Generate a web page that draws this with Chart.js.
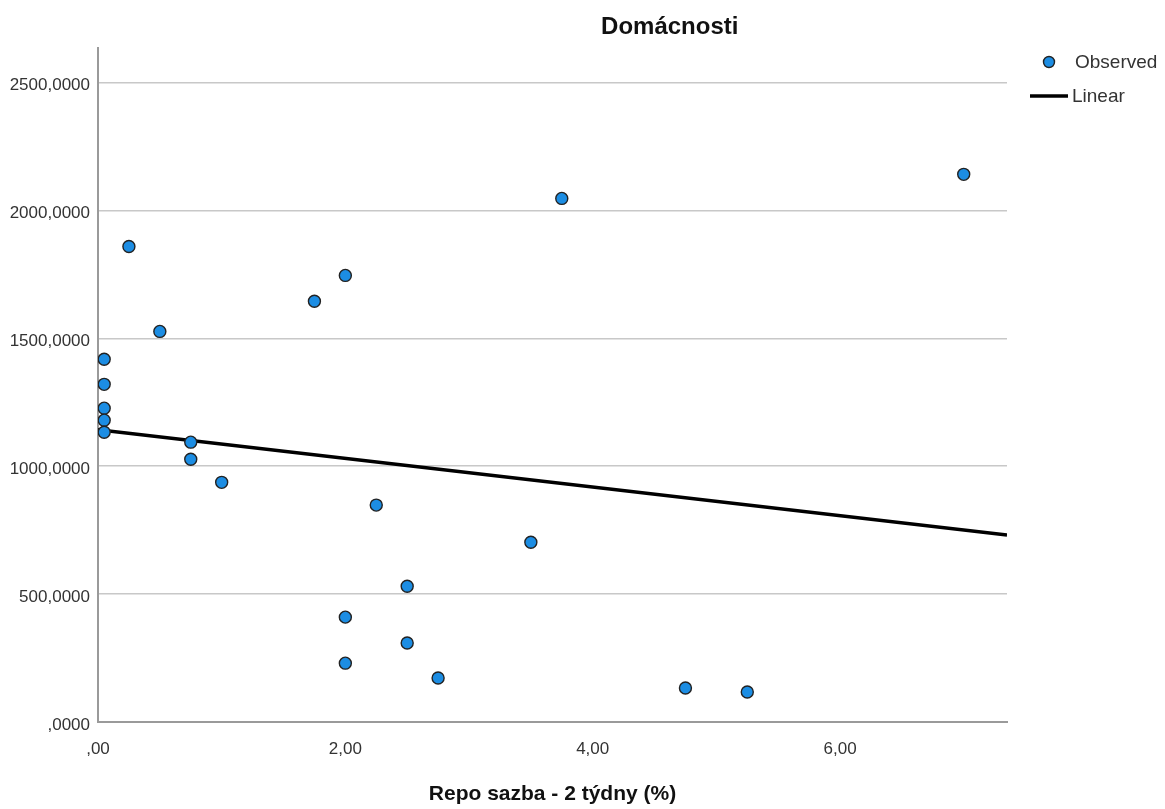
<!DOCTYPE html>
<html>
<head>
<meta charset="utf-8">
<script src="https://cdn.jsdelivr.net/npm/chart.js@4"></script>
<style>
  html, body { margin: 0; padding: 0; background: #fff; }
  #wrap { width: 1165px; height: 809px; }
</style>
</head>
<body>
<div id="wrap"><canvas id="repoChart" width="1165" height="809"></canvas></div>
<script>
// Observed data
const repoRate = [0.25, 0.05, 0.05, 0.05, 0.05, 0.05, 0.5, 0.75, 0.75, 1.0, 1.75, 2.0, 2.25, 2.0, 2.0, 2.5, 2.5, 2.75, 3.5, 3.75, 4.75, 5.25, 7.0];
const households = [1859, 1418, 1320, 1227, 1180, 1133, 1527, 1094, 1027, 937, 1645, 1746, 848, 410, 230, 531, 309, 172, 703, 2047, 133, 117, 2141];

// Linear fit (at both ends)
const fitX = [0, 7.35];
const fitY = [1143, 731];

const xTicks = [0, 2, 4, 6];
const yTicks = [0, 500, 1000, 1500, 2000, 2500];

const pointBlue = "#1c8de3";
const textColor = "#333333";
const fontFamily = "'Liberation Sans', Arial, sans-serif";

function commaFormat(value, decimals) {
    let s = value.toFixed(decimals).replace(".", ",");
    if (s.startsWith("0,")) s = s.slice(1);
    return s;
}

// title + legend drawn by hand, SPSS style
const extrasPlugin = {
    id: "extras",
    afterDraw(chart) {
        const ctx = chart.ctx;
        const area = chart.chartArea;
        ctx.save();
        ctx.fillStyle = "#111";
        ctx.font = "bold 24px " + fontFamily;
        ctx.textAlign = "center";
        ctx.textBaseline = "middle";
        ctx.fillText("Domácnosti", area.left + area.width * 0.629, 27);

        // legend
        const lx = area.right + 42;
        ctx.beginPath();
        ctx.arc(lx, 62, 5.5, 0, Math.PI * 2);
        ctx.fillStyle = pointBlue;
        ctx.fill();
        ctx.lineWidth = 1.4;
        ctx.strokeStyle = "#222";
        ctx.stroke();

        ctx.beginPath();
        ctx.moveTo(area.right + 23, 96);
        ctx.lineTo(area.right + 61, 96);
        ctx.lineWidth = 3.5;
        ctx.strokeStyle = "#000";
        ctx.stroke();

        ctx.fillStyle = textColor;
        ctx.font = "19px " + fontFamily;
        ctx.textAlign = "left";
        ctx.fillText("Observed", area.right + 68, 63);
        ctx.fillText("Linear", area.right + 65, 97);
        ctx.restore();
    }
};

const ctx = document.getElementById("repoChart").getContext("2d");

new Chart(ctx, {
    type: "scatter",
    data: {
        datasets: [
            {
                label: "Observed",
                data: repoRate.map((x, i) => ({ x: x, y: households[i] })),
                backgroundColor: pointBlue,
                borderColor: "#222",
                borderWidth: 1.4,
                pointRadius: 6,
                order: 1
            },
            {
                label: "Linear",
                type: "line",
                data: fitX.map((x, i) => ({ x: x, y: fitY[i] })),
                borderColor: "#000",
                borderWidth: 3.5,
                pointRadius: 0,
                fill: false,
                order: 2
            }
        ]
    },
    options: {
        responsive: false,
        animation: false,
        layout: { padding: { top: 48, right: 158, left: 0, bottom: 0 } },
        plugins: {
            legend: { display: false },
            title: { display: false },
            tooltip: { enabled: false }
        },
        scales: {
            x: {
                type: "linear",
                min: 0,
                max: 7.35,
                afterFit: function(scale) { scale.height = 87; },
                afterBuildTicks: function(scale) {
                    scale.ticks = xTicks.map(v => ({ value: v }));
                },
                ticks: {
                    color: textColor,
                    font: { family: fontFamily, size: 17 },
                    padding: 17,
                    maxRotation: 0,
                    callback: function(value) { return commaFormat(value, 2); }
                },
                grid: { display: false, drawTicks: false },
                border: { display: true, color: "#9a9a9a", width: 2 },
                title: {
                    display: true,
                    text: "Repo sazba - 2 týdny (%)",
                    color: "#111",
                    font: { family: fontFamily, size: 21, weight: "bold" },
                    padding: { top: 0, bottom: 2 }
                }
            },
            y: {
                type: "linear",
                min: 0,
                max: 2635,
                afterFit: function(scale) { scale.width = 98; },
                afterBuildTicks: function(scale) {
                    scale.ticks = yTicks.map(v => ({ value: v }));
                },
                ticks: {
                    color: textColor,
                    font: { family: fontFamily, size: 17 },
                    padding: 8,
                    labelOffset: 3,
                    callback: function(value) { return commaFormat(value, 4); }
                },
                grid: { color: "#c8c8c8", lineWidth: 1.5, drawTicks: false },
                border: { display: true, color: "#9a9a9a", width: 2 }
            }
        }
    },
    plugins: [extrasPlugin]
});
</script>
</body>
</html>
